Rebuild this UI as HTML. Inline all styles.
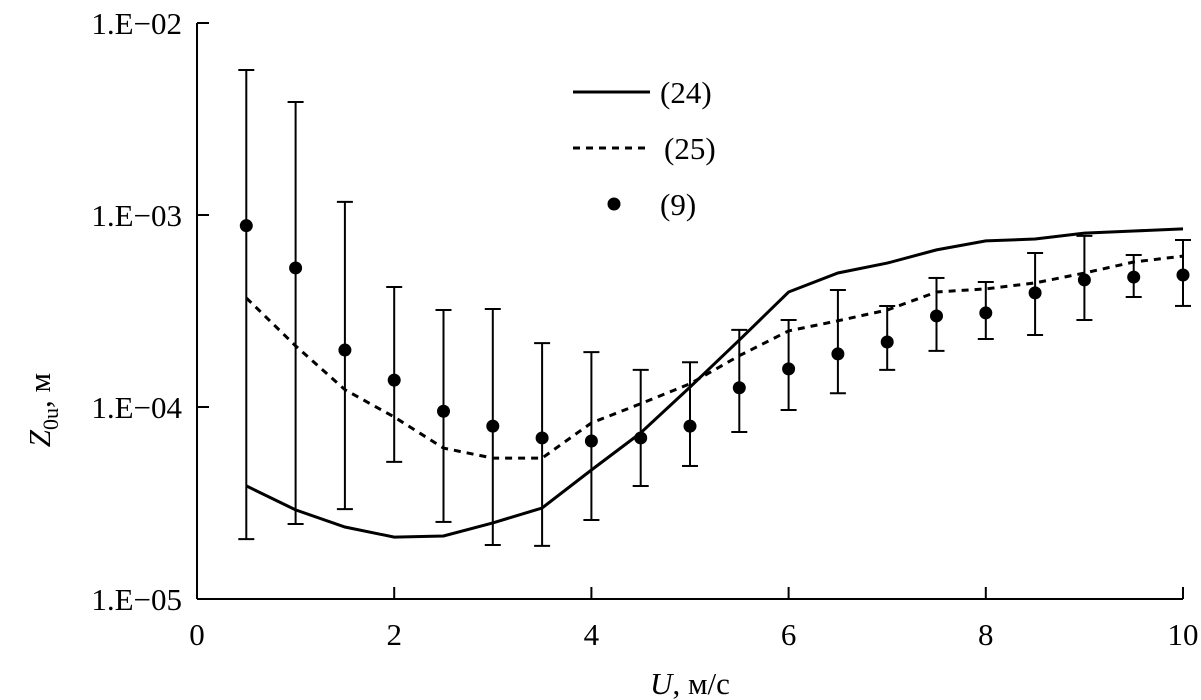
<!DOCTYPE html>
<html><head><meta charset="utf-8"><style>
html,body{margin:0;padding:0;background:#fff}
svg{display:block}
text{font-family:"Liberation Serif",serif;fill:#000}
</style></head><body>
<svg id="chart" width="1201" height="700" viewBox="0 0 1201 700">
<g id="axes"></g>
<g id="series"></g>
<g>
  <line x1="573" y1="92" x2="650" y2="92" stroke="#000" stroke-width="3"/>
  <text x="660" y="103" font-size="31">(24)</text>
  <line x1="573" y1="148" x2="650" y2="148" stroke="#000" stroke-width="3" stroke-dasharray="7,6"/>
  <text x="664" y="159" font-size="31">(25)</text>
  <circle cx="614" cy="204" r="6.5" fill="#000"/>
  <text x="660" y="215" font-size="31">(9)</text>
</g>
<text x="690" y="694" font-size="31" text-anchor="middle"><tspan font-style="italic">U</tspan>, м/с</text>
<text transform="translate(50,410) rotate(-90)" font-size="31" text-anchor="middle"><tspan font-style="italic">Z</tspan><tspan font-size="22" dy="8">0u</tspan><tspan dy="-8">, м</tspan></text>
</svg>
<script>
const xs = [0.5,1,1.5,2,2.5,3,3.5,4,4.5,5,5.5,6,6.5,7,7.5,8,8.5,9,9.5,10];
const obs = [8.8e-4,5.3e-4,1.98e-4,1.38e-4,9.5e-5,7.95e-5,6.9e-5,6.65e-5,6.9e-5,7.95e-5,1.26e-4,1.58e-4,1.89e-4,2.18e-4,2.98e-4,3.09e-4,3.93e-4,4.59e-4,4.75e-4,4.87e-4];
const errHi = [5.69e-3,3.88e-3,1.17e-3,4.22e-4,3.2e-4,3.24e-4,2.15e-4,1.93e-4,1.56e-4,1.71e-4,2.52e-4,2.84e-4,4.07e-4,3.36e-4,4.7e-4,4.48e-4,6.34e-4,7.78e-4,6.19e-4,7.41e-4];
const errLo = [2.05e-5,2.46e-5,2.94e-5,5.18e-5,2.52e-5,1.91e-5,1.89e-5,2.58e-5,3.88e-5,4.93e-5,7.41e-5,9.64e-5,1.18e-4,1.56e-4,1.96e-4,2.26e-4,2.37e-4,2.84e-4,3.74e-4,3.36e-4];
const model24 = [3.88e-5,2.91e-5,2.37e-5,2.1e-5,2.13e-5,2.49e-5,2.98e-5,4.7e-5,7.33e-5,1.27e-4,2.23e-4,3.97e-4,4.99e-4,5.62e-4,6.58e-4,7.33e-4,7.5e-4,8.05e-4,8.25e-4,8.46e-4];
const model25 = [3.7e-4,2.08e-4,1.23e-4,8.87e-5,6.11e-5,5.42e-5,5.42e-5,8.26e-5,1.04e-4,1.32e-4,1.85e-4,2.49e-4,2.81e-4,3.2e-4,3.97e-4,4.12e-4,4.43e-4,4.99e-4,5.69e-4,6.11e-4];
const xTicks = [0,2,4,6,8,10];
const yTicks = [1e-5,1e-4,1e-3,1e-2];
const yTickLabels = ["1.E\u221205","1.E\u221204","1.E\u221203","1.E\u221202"];

const X0=197, X1=1183, Y0=599, Y1=23;
function sx(v){return X0+(v-0)/(10-0)*(X1-X0);}
function sy(v){return Y0-(Math.log10(v)+5)/3*(Y0-Y1);}
const NS="http://www.w3.org/2000/svg";
function mk(tag,attrs,parent){const e=document.createElementNS(NS,tag);for(const k in attrs)e.setAttribute(k,attrs[k]);parent.appendChild(e);return e;}
const axes=document.getElementById('axes'), ser=document.getElementById('series');

let e=mk('line',{x1:X0,y1:Y1,x2:X0,y2:Y0,stroke:'#000','stroke-width':2},axes);


e=mk('line',{x1:X0,y1:Y0,x2:X1,y2:Y0,stroke:'#000','stroke-width':2},axes);


yTicks.forEach((t,i)=>{
  const y=sy(t);
  let l=mk('line',{x1:X0,y1:y,x2:X0+12,y2:y,stroke:'#000','stroke-width':2},axes);
  
  
  let tx=mk('text',{x:182,y:y+11,'font-size':31,'text-anchor':'end'},axes);
  tx.textContent=yTickLabels[i];
  
  
});
xTicks.forEach(t=>{
  const x=sx(t);
  let l=mk('line',{x1:x,y1:Y0,x2:x,y2:Y0-12,stroke:'#000','stroke-width':2},axes);
  
  
  let tx=mk('text',{x:x,y:645,'font-size':31,'text-anchor':'middle'},axes);
  tx.textContent=String(t);
  
  
});
function pts(arr){return arr.map((v,i)=>sx(xs[i]).toFixed(1)+','+sy(v).toFixed(1)).join(' ');}
let p=mk('polyline',{points:pts(model24),fill:'none',stroke:'#000','stroke-width':3},ser);


p=mk('polyline',{points:pts(model25),fill:'none',stroke:'#000','stroke-width':3,'stroke-dasharray':'7,6'},ser);


xs.forEach((xv,i)=>{
  const x=sx(xv), yh=sy(errHi[i]), yl=sy(errLo[i]);
  const g=mk('g',{stroke:'#000','stroke-width':2},ser);
  
  
  mk('line',{x1:x,y1:yh,x2:x,y2:yl},g);
  mk('line',{x1:x-8,y1:yh,x2:x+8,y2:yh},g);
  mk('line',{x1:x-8,y1:yl,x2:x+8,y2:yl},g);
  const c=mk('circle',{cx:x,cy:sy(obs[i]),r:6.5,fill:'#000'},ser);
  
  
});
</script>
</body></html>
